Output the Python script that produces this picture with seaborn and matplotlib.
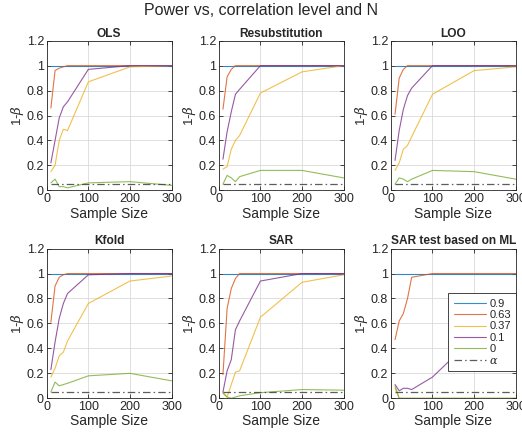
import numpy as np
import pandas as pd
import matplotlib
matplotlib.use("Agg")
import matplotlib.pyplot as plt
import seaborn as sns

# ---------------- data ----------------
sample_sizes = [10, 20, 30, 40, 50, 100, 200, 300]
correlations = ["0.9", "0.63", "0.37", "0.1", "0"]
alpha_level = 0.05

panel_titles = ["OLS", "Resubstitution", "LOO", "Kfold", "SAR", "SAR test based on ML"]

ols_09 = [1, 1, 1, 1, 1, 1, 1, 1]
ols_063 = [0.66, 0.96, 0.98, 0.99, 1.0, 1.0, 1.0, 1.0]
ols_037 = [0.15, 0.20, 0.40, 0.49, 0.48, 0.87, 0.99, 1.0]
ols_01 = [0.22, 0.40, 0.58, 0.67, 0.71, 0.97, 1.0, 1.0]
ols_0 = [0.06, 0.09, 0.03, 0.03, 0.02, 0.06, 0.07, 0.04]

resub_09 = [1, 1, 1, 1, 1, 1, 1, 1]
resub_063 = [0.65, 0.91, 0.97, 1.0, 1.0, 1.0, 1.0, 1.0]
resub_037 = [0.17, 0.19, 0.33, 0.40, 0.44, 0.78, 0.95, 1.0]
resub_01 = [0.25, 0.47, 0.63, 0.77, 0.81, 1.0, 1.0, 1.0]
resub_0 = [0.05, 0.12, 0.10, 0.07, 0.11, 0.16, 0.16, 0.10]

loo_09 = [1, 1, 1, 1, 1, 1, 1, 1]
loo_063 = [0.61, 0.90, 0.97, 1.0, 1.0, 1.0, 1.0, 1.0]
loo_037 = [0.16, 0.22, 0.33, 0.36, 0.43, 0.77, 0.96, 0.99]
loo_01 = [0.24, 0.48, 0.65, 0.76, 0.82, 1.0, 1.0, 1.0]
loo_0 = [0.05, 0.10, 0.09, 0.07, 0.09, 0.16, 0.15, 0.09]

kfold_09 = [1, 1, 1, 1, 1, 1, 1, 1]
kfold_063 = [0.61, 0.90, 0.97, 0.99, 1.0, 1.0, 1.0, 1.0]
kfold_037 = [0.17, 0.24, 0.34, 0.37, 0.46, 0.76, 0.94, 0.98]
kfold_01 = [0.23, 0.45, 0.64, 0.76, 0.84, 0.99, 1.0, 1.0]
kfold_0 = [0.05, 0.13, 0.10, 0.11, 0.12, 0.18, 0.20, 0.14]

sar_09 = [1, 1, 1, 1, 1, 1, 1, 1]
sar_063 = [0.19, 0.72, 0.88, 0.96, 1.0, 1.0, 1.0, 1.0]
sar_037 = [0.05, 0.01, 0.11, 0.21, 0.22, 0.65, 0.93, 0.99]
sar_01 = [0.05, 0.22, 0.31, 0.55, 0.62, 0.94, 1.0, 1.0]
sar_0 = [0.04, 0.01, 0.0, 0.01, 0.02, 0.045, 0.07, 0.065]

ml_09 = [1, 1, 1, 1, 1, 1, 1, 1]
ml_063 = [0.47, 0.62, 0.68, 0.80, 0.97, 1.0, 1.0, 1.0]
ml_037 = [0.08, 0.0, 0.0, 0.0, 0.0, 0.0, 0.0, 0.0]
ml_01 = [0.11, 0.06, 0.08, 0.08, 0.07, 0.17, 0.49, 0.72]
ml_0 = [0.10, 0.0, 0.0, 0.0, 0.0, 0.0, 0.0, 0.0]

panels = [
    [ols_09, ols_063, ols_037, ols_01, ols_0],
    [resub_09, resub_063, resub_037, resub_01, resub_0],
    [loo_09, loo_063, loo_037, loo_01, loo_0],
    [kfold_09, kfold_063, kfold_037, kfold_01, kfold_0],
    [sar_09, sar_063, sar_037, sar_01, sar_0],
    [ml_09, ml_063, ml_037, ml_01, ml_0],
]

x_ticks = [0, 100, 200, 300]
y_ticks = [0, 0.2, 0.4, 0.6, 0.8, 1.0, 1.2]
y_tick_labels = ["0", "0.2", "0.4", "0.6", "0.8", "1", "1.2"]

# ---------------- style ----------------
sns.set_theme(style="white")
plt.rcParams["font.family"] = ["Liberation Sans", "DejaVu Sans"]
plt.rcParams["mathtext.fontset"] = "dejavuserif"

palette = {
    "0.9": (0.0, 0.447, 0.741),
    "0.63": (0.85, 0.325, 0.098),
    "0.37": (0.929, 0.694, 0.125),
    "0.1": (0.494, 0.184, 0.556),
    "0": (0.466, 0.674, 0.188),
}
alpha_color = (0.25, 0.25, 0.25)
text_color = (0.15, 0.15, 0.15)

fig, axes = plt.subplots(2, 3, figsize=(5.22, 4.36), dpi=100)
fig.subplots_adjust(left=0.0895, right=0.988, bottom=0.0865, top=0.9067,
                    wspace=0.378, hspace=0.389)

for idx, ax in enumerate(axes.flat):
    series = panels[idx]
    rows = []
    for corr, vals in zip(correlations, series):
        for n, v in zip(sample_sizes, vals):
            rows.append({"N": n, "power": v, "rho": corr})
    df = pd.DataFrame(rows)
    for corr in correlations:
        sns.lineplot(data=df[df["rho"] == corr], x="N", y="power",
                     color=palette[corr], lw=0.8, alpha=0.8, ax=ax,
                     legend=False, label=corr)
    adf = pd.DataFrame({"N": [sample_sizes[0], sample_sizes[-1]],
                        "power": [alpha_level, alpha_level]})
    sns.lineplot(data=adf, x="N", y="power", color=alpha_color, lw=0.9,
                 alpha=0.85, linestyle=(0, (6, 2.5, 1.2, 2.5)), ax=ax,
                 legend=False, label=r"$\alpha$")

    ax.set_xlim(0, 300)
    ax.set_ylim(0, 1.2)
    ax.set_xticks(x_ticks)
    ax.set_xticklabels([str(t) for t in x_ticks])
    ax.set_yticks(y_ticks)
    ax.set_yticklabels(y_tick_labels)
    ax.grid(True, color=(0.86, 0.86, 0.86), lw=0.6)
    ax.set_axisbelow(True)
    ax.tick_params(direction="in", length=3, width=0.6, labelsize=9,
                   colors=text_color, pad=2,
                   top=True, right=True, bottom=True, left=True)
    for s in ax.spines.values():
        s.set_color(text_color)
        s.set_linewidth(0.6)
        s.set_visible(True)
    ax.set_xlabel("Sample Size", fontsize=10, labelpad=1, color=text_color)
    ax.set_ylabel(r"1-$\beta$", fontsize=9.5, labelpad=0.5, color=text_color)
    ax.set_title(panel_titles[idx], fontsize=8.6, fontweight="bold", pad=3)

ax_last = axes.flat[-1]
handles, labels = ax_last.get_legend_handles_labels()
leg = ax_last.legend(handles, labels, loc="lower right",
                     bbox_to_anchor=(1.005, 0.18), fontsize=8,
                     frameon=True, fancybox=False, framealpha=1.0,
                     handlelength=2.9, borderpad=0.5, labelspacing=0.13,
                     handletextpad=0.3, borderaxespad=0)
leg.get_frame().set_edgecolor(text_color)
leg.get_frame().set_linewidth(0.6)

fig.suptitle("Power vs, correlation level and N", fontsize=11.5, y=0.992)

fig.savefig("out.png", dpi=100)
